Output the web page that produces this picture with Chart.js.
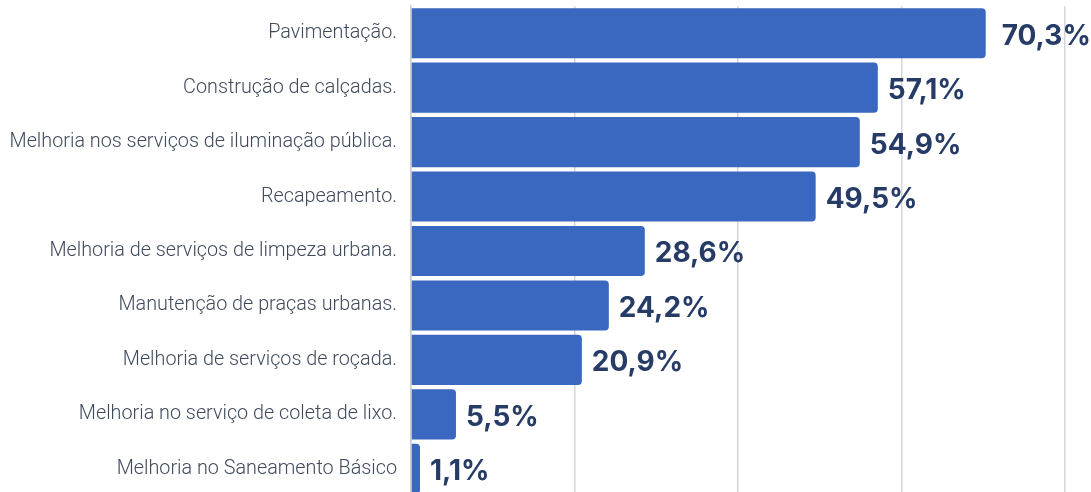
<!DOCTYPE html>
<html>
<head>
<meta charset="utf-8">
<script src="https://cdn.jsdelivr.net/npm/chart.js@4/dist/chart.umd.min.js"></script>
<style>
  html, body { margin: 0; padding: 0; background: #fff; overflow: hidden; }
  #wrap { position: relative; width: 1091px; height: 496px; }
</style>
</head>
<body>
<div id="wrap"><canvas id="chart"></canvas></div>
<script>
const categories = [
  "Pavimentação.",
  "Construção de calçadas.",
  "Melhoria nos serviços de iluminação pública.",
  "Recapeamento.",
  "Melhoria de serviços de limpeza urbana.",
  "Manutenção de praças urbanas.",
  "Melhoria de serviços de roçada.",
  "Melhoria no serviço de coleta de lixo.",
  "Melhoria no Saneamento Básico",
];
const values = [70.3, 57.1, 54.9, 49.5, 28.6, 24.2, 20.9, 5.5, 1.1];
const xTicks = [0, 20, 40, 60, 80];

const formatPct = (v) => v.toFixed(1).replace(".", ",") + "%";

const valueLabels = {
  id: "valueLabels",
  afterDatasetsDraw(chart) {
    const ctx = chart.ctx;
    const meta = chart.getDatasetMeta(0);
    ctx.save();
    ctx.font = "700 28px Inter";
    ctx.fillStyle = "#263b66";
    ctx.textAlign = "left";
    ctx.textBaseline = "middle";
    meta.data.forEach((bar, i) => {
      const gap = i === 0 ? 16 : 10;
      ctx.fillText(formatPct(values[i]), bar.x + gap, bar.y + 3);
    });
    ctx.restore();
  },
};

new Chart(document.getElementById("chart"), {
  type: "bar",
  data: {
    labels: categories,
    datasets: [
      {
        data: values,
        backgroundColor: "#3a67bf",
        borderRadius: 4,
        barPercentage: 0.92,
        categoryPercentage: 1,
      },
    ],
  },
  options: {
    indexAxis: "y",
    responsive: true,
    maintainAspectRatio: false,
    animation: false,
    layout: { padding: { top: 6, right: 26, bottom: 0, left: 0 } },
    plugins: { legend: { display: false }, tooltip: { enabled: false } },
    scales: {
      x: {
        min: xTicks[0],
        max: xTicks[xTicks.length - 1],
        afterBuildTicks: (axis) => { axis.ticks = xTicks.map((v) => ({ value: v })); },
        ticks: { display: false },
        grid: { color: "#d3d7dd", lineWidth: 1.5, drawTicks: false },
        border: { display: false },
        afterFit: (axis) => { axis.height = 0; axis.paddingLeft = 0; axis.paddingRight = 0; },
      },
      y: {
        grid: { display: false, drawTicks: false },
        border: { display: true, color: "#c9cdd3", width: 1.5 },
        ticks: {
          color: "#3e4a5c",
          font: { family: "Roboto", size: 19.8, weight: 300 },
          padding: 14,
        },
        afterFit: (axis) => { axis.width = 411; axis.paddingTop = 0; axis.paddingBottom = 0; },
      },
    },
  },
  plugins: [valueLabels],
});
</script>
</body>
</html>
